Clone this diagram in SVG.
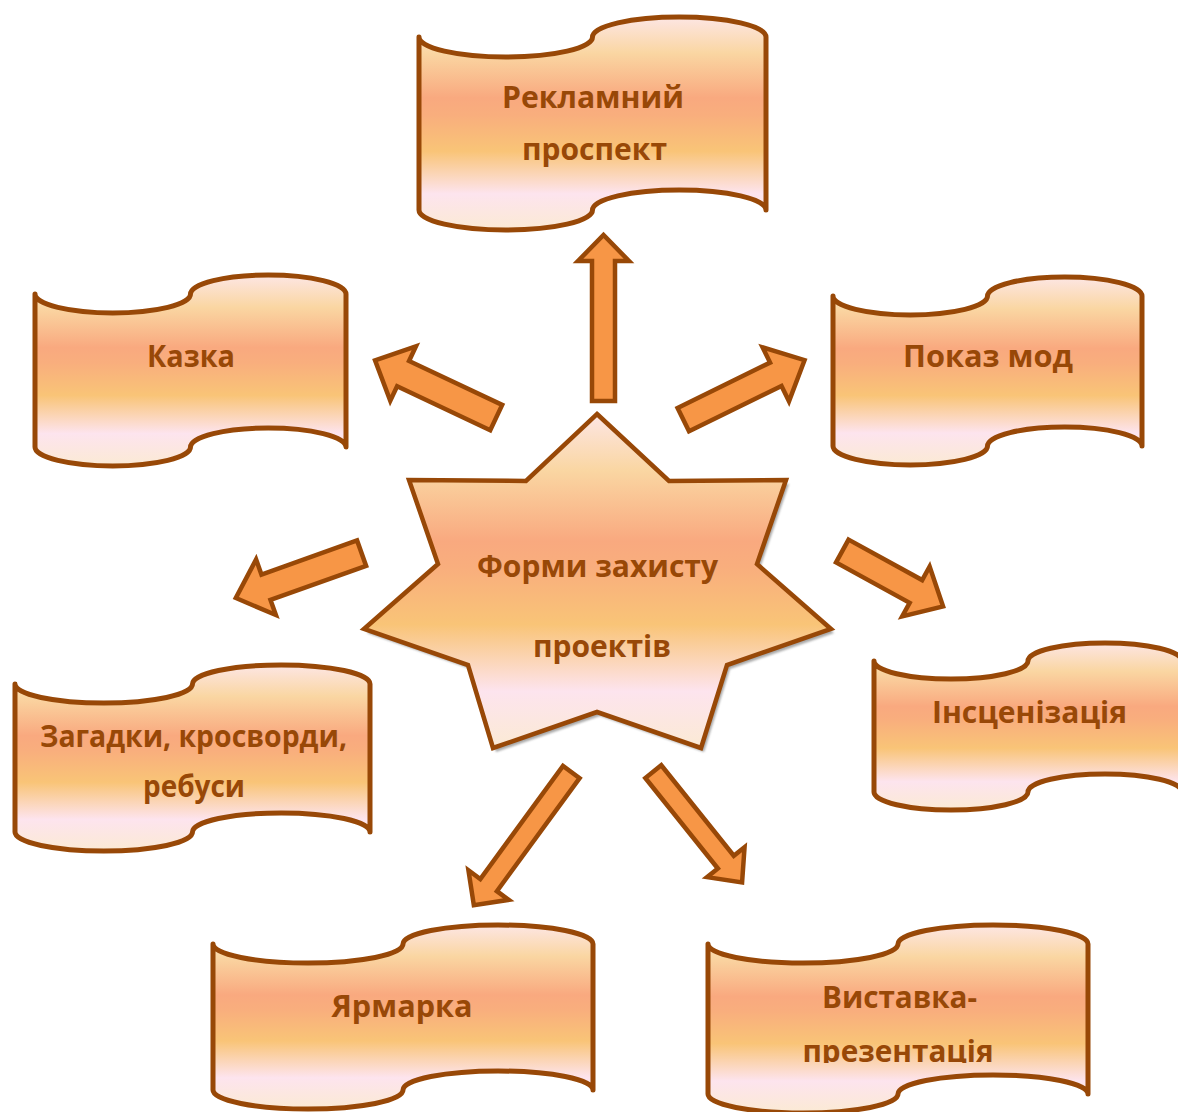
<svg xmlns="http://www.w3.org/2000/svg" width="1178" height="1112" viewBox="0 0 1178 1112">
<defs>
<linearGradient id="sunset" x1="0" y1="0" x2="0" y2="1">
<stop offset="0" stop-color="#fde6e4"/>
<stop offset="0.17" stop-color="#fad6a2"/>
<stop offset="0.38" stop-color="#f9a97f"/>
<stop offset="0.46" stop-color="#f9ae7d"/>
<stop offset="0.63" stop-color="#f9c477"/>
<stop offset="0.83" stop-color="#fde4ee"/>
<stop offset="1" stop-color="#fbead4"/>
</linearGradient>
<filter id="blur" x="-10%" y="-10%" width="120%" height="120%">
<feGaussianBlur stdDeviation="1.2"/>
</filter>
<clipPath id="clipV">
<rect x="700" y="920" width="400" height="143"/>
</clipPath>
<style>
.box{fill:url(#sunset);stroke:#984807;stroke-width:5;stroke-linejoin:round}
.star{fill:url(#sunset);stroke:#984807;stroke-width:4.5;stroke-linejoin:miter}
.shadow{fill:#8c8c8c;opacity:0.75;filter:url(#blur)}
.arrow{fill:#f79646;stroke:#984807;stroke-width:4.5;stroke-linejoin:miter}
.lbl{font-family:"Open Sans","Noto Sans","DejaVu Sans",sans-serif;font-weight:bold;font-size:31px;fill:#984807;text-anchor:middle}
</style>
</defs>
<rect width="1178" height="1112" fill="#ffffff"/>

<g id="connectors">
<path class="arrow" transform="translate(603.5,401) rotate(-90)" d="M0,-11.5 L140,-11.5 L140,-25.5 L166,0 L140,25.5 L140,11.5 L0,11.5 Z"/>
<path class="arrow" transform="translate(496.2,417.6) rotate(205.3)" d="M0,-14 L103,-14 L103,-30 L134,0 L103,30 L103,14 L0,14 Z"/>
<path class="arrow" transform="translate(683.3,419.6) rotate(-26.1)" d="M0,-13 L103,-13 L103,-30 L135,0 L103,30 L103,13 L0,13 Z"/>
<path class="arrow" transform="translate(842.3,551) rotate(28.8)" d="M0,-13 L84,-13 L84,-28.5 L115,0 L84,28.5 L84,13 L0,13 Z"/>
<path class="arrow" transform="translate(361.6,553.2) rotate(160.4)" d="M0,-13.5 L101.5,-13.5 L101.5,-29.5 L133.5,0 L101.5,29.5 L101.5,13.5 L0,13.5 Z"/>
<path class="arrow" transform="translate(571.3,772.1) rotate(126.2)" d="M0,-10.3 L140,-10.3 L140,-25 L165,0 L140,25 L140,10.3 L0,10.3 Z"/>
<path class="arrow" transform="translate(653.3,771.6) rotate(51.3)" d="M0,-10.2 L116,-10.2 L116,-24 L142,0 L116,24 L116,10.2 L0,10.2 Z"/>
</g>

<g id="node-center">
<polygon class="shadow" transform="translate(3,4)" points="597,414 669,481 786,480 757,564 831,629 727,665 701,748 597,712 493,748 468,665 364,629 438,564 409,480 526,481"/>
<polygon class="star" points="597,414 669,481 786,480 757,564 831,629 727,665 701,748 597,712 493,748 468,665 364,629 438,564 409,480 526,481"/>
<text class="lbl" x="597.5" y="577" textLength="241" lengthAdjust="spacingAndGlyphs">Форми захисту</text>
<text class="lbl" x="602" y="657" textLength="138" lengthAdjust="spacingAndGlyphs">проектів</text>
</g>

<g id="node-reklamnyi">
<path class="box" d="M419,37 A86.75,20 0 0 0 592.5,37 A86.75,20 0 0 1 766,37 L766,210 A86.75,20 0 0 0 592.5,210 A86.75,20 0 0 1 419,210 Z"/>
<text class="lbl" x="593" y="108" textLength="182" lengthAdjust="spacingAndGlyphs">Рекламний</text>
<text class="lbl" x="594.5" y="160" textLength="145" lengthAdjust="spacingAndGlyphs">проспект</text>
</g>

<g id="node-kazka">
<path class="box" d="M35,294 A77.75,19 0 0 0 190.5,294 A77.75,19 0 0 1 346,294 L346,447 A77.75,19 0 0 0 190.5,447 A77.75,19 0 0 1 35,447 Z"/>
<text class="lbl" x="191" y="367" textLength="88" lengthAdjust="spacingAndGlyphs">Казка</text>
</g>

<g id="node-pokaz">
<path class="box" d="M833,296 A77.25,19 0 0 0 987.5,296 A77.25,19 0 0 1 1142,296 L1142,446 A77.25,19 0 0 0 987.5,446 A77.25,19 0 0 1 833,446 Z"/>
<text class="lbl" x="988" y="367" textLength="170" lengthAdjust="spacingAndGlyphs">Показ мод</text>
</g>

<g id="node-zagadky">
<path class="box" d="M15,684 A88.75,19 0 0 0 192.5,684 A88.75,19 0 0 1 370,684 L370,832 A88.75,19 0 0 0 192.5,832 A88.75,19 0 0 1 15,832 Z"/>
<text class="lbl" x="193.5" y="747" textLength="307" lengthAdjust="spacingAndGlyphs">Загадки, кросворди,</text>
<text class="lbl" x="194" y="797" textLength="102" lengthAdjust="spacingAndGlyphs">ребуси</text>
</g>

<g id="node-inscenizacia">
<path class="box" d="M874,661 A77,18 0 0 0 1028,661 A77,18 0 0 1 1182,661 L1182,792 A77,18 0 0 0 1028,792 A77,18 0 0 1 874,792 Z"/>
<text class="lbl" x="1029.5" y="723" textLength="195" lengthAdjust="spacingAndGlyphs">Інсценізація</text>
</g>

<g id="node-yarmarka">
<path class="box" d="M213,944 A95,19 0 0 0 403,944 A95,19 0 0 1 593,944 L593,1090 A95,19 0 0 0 403,1090 A95,19 0 0 1 213,1090 Z"/>
<text class="lbl" x="402" y="1017" textLength="141" lengthAdjust="spacingAndGlyphs">Ярмарка</text>
</g>

<g id="node-vystavka">
<path class="box" d="M708,944 A95,19 0 0 0 898,944 A95,19 0 0 1 1088,944 L1088,1094 A95,19 0 0 0 898,1094 A95,19 0 0 1 708,1094 Z"/>
<g clip-path="url(#clipV)">
<text class="lbl" x="899.5" y="1008" textLength="155" lengthAdjust="spacingAndGlyphs">Виставка-</text>
<text class="lbl" x="898" y="1062" textLength="191" lengthAdjust="spacingAndGlyphs">презентація</text>
</g>
</g>
</svg>
